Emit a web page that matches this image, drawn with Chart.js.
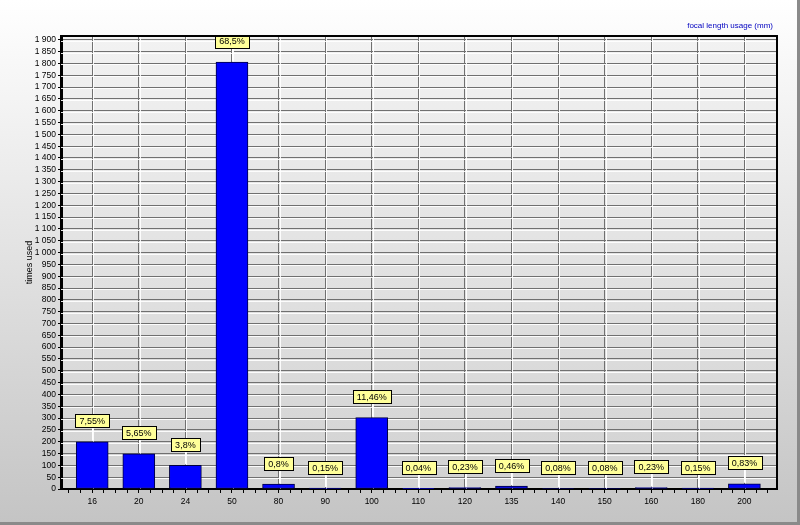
<!DOCTYPE html>
<html>
<head>
<meta charset="utf-8">
<script src="https://cdn.jsdelivr.net/npm/chart.js@4/dist/chart.umd.min.js"></script>
<style>
  html, body { margin: 0; padding: 0; background: #fff; }
  #wrap { width: 800px; height: 525px; }
</style>
</head>
<body>
<div id="wrap"><canvas id="focal" width="800" height="525"></canvas></div>
<script>
// focal lengths (mm) along the x-axis
var focals = ["16", "20", "24", "50", "80", "90", "100", "110", "120", "135", "140", "150", "160", "180", "200"];
// how many times each focal length was used
var timesUsed = [199, 149, 100, 1806, 21, 4, 302, 1, 6, 12, 2, 2, 6, 4, 22];
// share labels shown above the bars
var shares = ["7,55%", "5,65%", "3,8%", "68,5%", "0,8%", "0,15%", "11,46%", "0,04%", "0,23%", "0,46%", "0,08%", "0,08%", "0,23%", "0,15%", "0,83%"];
// y-axis ticks, every 50
var yTicks = [];
for (var t = 0; t <= 1900; t += 50) yTicks.push(t);

var FONT = "'Liberation Sans', Arial, sans-serif";

var backdrop = {
  id: "backdrop",
  beforeDraw: function (chart) {
    var c = chart.ctx, a = chart.chartArea;
    var g = c.createLinearGradient(0, 0, 0, chart.height);
    g.addColorStop(0, "#ffffff");
    g.addColorStop(1, "#c4c4c4");
    c.save();
    c.fillStyle = g;
    c.fillRect(0, 0, chart.width, chart.height);
    c.fillStyle = "#8a8a8a";
    c.fillRect(chart.width - 3, 0, 3, chart.height);
    c.fillRect(0, chart.height - 3, chart.width, 3);
    var p = c.createLinearGradient(0, a.top, 0, a.bottom);
    p.addColorStop(0, "#f2f2f2");
    p.addColorStop(1, "#d2d2d2");
    c.fillStyle = p;
    c.fillRect(a.left, a.top, a.right - a.left, a.bottom - a.top);
    c.restore();
  },
  beforeDatasetsDraw: function (chart) {
    // white highlight next to each grid line
    var c = chart.ctx, a = chart.chartArea;
    var xs = chart.scales.x, ys = chart.scales.y;
    c.save();
    c.strokeStyle = "rgba(255,255,255,0.9)";
    c.lineWidth = 1;
    c.beginPath();
    yTicks.forEach(function (v) {
      var y = Math.round(ys.getPixelForValue(v)) + 1.5;
      if (y < a.bottom - 1) { c.moveTo(a.left, y); c.lineTo(a.right, y); }
    });
    focals.forEach(function (f, i) {
      var x = Math.round(xs.getPixelForValue(i)) + 1.5;
      c.moveTo(x, a.top); c.lineTo(x, a.bottom);
    });
    c.stroke();
    c.restore();
  },
  afterDraw: function (chart) {
    var c = chart.ctx, a = chart.chartArea;
    c.save();
    c.strokeStyle = "#000";
    c.lineWidth = 2;
    c.beginPath();
    c.moveTo(a.left, a.top);
    c.lineTo(a.right, a.top);
    c.lineTo(a.right, a.bottom);
    c.stroke();
    c.fillStyle = "#0000c0";
    c.font = "8px " + FONT;
    c.textAlign = "right";
    c.textBaseline = "middle";
    c.fillText("focal length usage (mm)", 773, 26);
    c.restore();
  }
};

var shareLabels = {
  id: "shareLabels",
  afterDatasetsDraw: function (chart) {
    var c = chart.ctx;
    var meta = chart.getDatasetMeta(0);
    c.save();
    c.font = "9px " + FONT;
    c.textAlign = "center";
    c.textBaseline = "middle";
    meta.data.forEach(function (bar, i) {
      var cy = bar.y - 21;
      var w = c.measureText(shares[i]).width + 8;
      var h = 13;
      c.strokeStyle = "#ffffff";
      c.lineWidth = 1;
      c.beginPath();
      c.moveTo(Math.round(bar.x) + 0.5, cy);
      c.lineTo(Math.round(bar.x) + 0.5, bar.y - 1);
      c.stroke();
      c.fillStyle = "#ffff99";
      c.fillRect(Math.round(bar.x - w / 2), Math.round(cy - h / 2), Math.round(w), h);
      c.strokeStyle = "#000";
      c.strokeRect(Math.round(bar.x - w / 2) + 0.5, Math.round(cy - h / 2) + 0.5, Math.round(w), h);
      c.fillStyle = "#000";
      c.fillText(shares[i], bar.x, cy + 1);
    });
    c.restore();
  }
};

var ctx = document.getElementById("focal");
var chart = new Chart(ctx, {
  type: "bar",
  data: {
    datasets: [
      {
        label: "times used",
        data: timesUsed.map(function (v, i) { return { x: i, y: v }; }),
        backgroundColor: "#0000ff",
        borderColor: "#000040",
        borderWidth: 1,
        borderSkipped: false,
        barThickness: 32
      }
    ]
  },
  plugins: [backdrop, shareLabels],
  options: {
    responsive: false,
    animation: false,
    layout: { padding: { top: 36, right: 23, bottom: 0, left: 0 } },
    plugins: { legend: { display: false }, tooltip: { enabled: false } },
    scales: {
      x: {
        type: "linear",
        offset: false,
        min: -0.67,
        max: 14.7,
        afterBuildTicks: function (scale) {
          var ticks = [];
          for (var q = -2; q <= 58; q++) ticks.push({ value: q / 4 });
          scale.ticks = ticks;
        },
        afterFit: function (scale) { scale.height = 36; },
        ticks: {
          autoSkip: false,
          maxRotation: 0,
          color: "#000",
          font: { family: FONT, size: 8.5 },
          padding: 4,
          callback: function (v) { return Number.isInteger(v) ? focals[v] : ""; }
        },
        grid: {
          offset: false,
          color: function (c) { return c.tick && Number.isInteger(c.tick.value) ? "#707070" : "rgba(0,0,0,0)"; },
          lineWidth: 1,
          tickLength: 4,
          tickColor: "#000"
        },
        border: { color: "#000", width: 2 }
      },
      y: {
        min: 0,
        max: 1916,
        afterBuildTicks: function (scale) {
          scale.ticks = yTicks.map(function (v) { return { value: v }; });
        },
        afterFit: function (scale) { scale.width = 61; },
        ticks: {
          autoSkip: false,
          color: "#000",
          font: { family: FONT, size: 8.5 },
          padding: 2,
          callback: function (v) { return v >= 1000 ? Math.floor(v / 1000) + " " + String(v % 1000).padStart(3, "0") : String(v); }
        },
        grid: { color: "#707070", lineWidth: 1, tickLength: 3, tickColor: "#000" },
        border: { color: "#000", width: 3 },
        title: {
          display: true,
          text: "times used",
          color: "#000",
          font: { family: FONT, size: 9 },
          padding: { top: 24, bottom: 0 }
        }
      }
    }
  }
});
</script>
</body>
</html>
